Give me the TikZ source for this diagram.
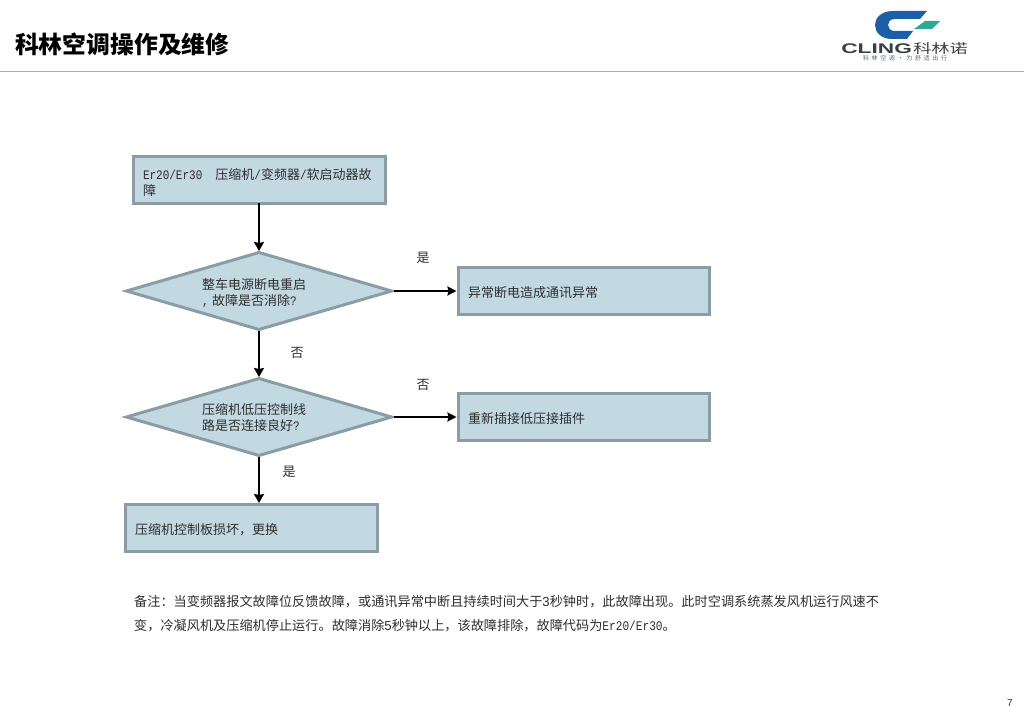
\documentclass[tikz,border=0pt]{standalone}
\usepackage{fontspec}
\setmainfont{Noto Sans CJK SC}
\newfontfamily\monofam[FakeStretch=0.846]{Liberation Mono}
\newfontfamily\sansfam{Liberation Sans}
\newfontfamily\spacedfam[LetterSpace=45]{Noto Sans CJK SC}
\usetikzlibrary{shapes.geometric,arrows.meta}
\definecolor{boxfill}{HTML}{C3D9E1}
\definecolor{boxline}{HTML}{8A9DA5}
\definecolor{inkgrey}{HTML}{2E2E2E}
\definecolor{rulegrey}{HTML}{9FB2AA}
\definecolor{logoblue}{HTML}{1B5FA6}
\definecolor{logogreen}{HTML}{2FA98F}
\definecolor{logogrey}{HTML}{3A3F44}
\newcommand{\bodyfont}{\fontsize{13}{16}\selectfont}
\newcommand{\mn}[1]{{\monofam #1}}
\newcommand{\lowerA}[1]{\raisebox{-2pt}[\height][\depth]{#1}}
\newcommand{\lowerB}[1]{\raisebox{-2pt}[\height][\depth]{#1}}
\newcommand{\lowerC}[1]{\raisebox{-1pt}[\height][\depth]{#1}}
\tikzset{
  flowshape/.style={draw=boxline,fill=boxfill,line width=3pt,text=inkgrey,font=\bodyfont,outer sep=0pt},
  flowbox/.style={flowshape,rectangle,minimum height=47pt,inner xsep=10pt,inner ysep=0pt,align=left},
  decision/.style={flowshape,diamond,aspect=3.43,minimum width=265pt,minimum height=77pt,inner sep=0pt,align=left,text width=114pt},
  vline/.style={draw=black,line width=2.4pt,-{Stealth[length=9pt,width=10pt,inset=1pt]}},
  hline/.style={draw=black,line width=2pt,-{Stealth[length=9pt,width=9pt,inset=1pt]}},
  branchlabel/.style={text=inkgrey,font=\bodyfont,inner sep=0pt},
}
\begin{document}
\begin{tikzpicture}[x=1pt,y=-1pt]
\useasboundingbox (0,0) rectangle (1024,708);
\fill[white] (0,0) rectangle (1024,708);
% header
\node[anchor=west,inner sep=0pt,font=\fontsize{23.8}{26}\selectfont\bfseries,text=black] (title) at (15,44) {科林空调操作及维修};
\coordinate (ruleL) at (0,71.5);
\coordinate (ruleR) at (1024,71.5);
\draw[rulegrey,line width=1.5pt] (ruleL) -- (ruleR);
% logo
\fill[logoblue] (927,11) -- (893,11) .. controls (880,11) and (875,19) .. (875,25)
  .. controls (875,32) and (881,39) .. (892,39) -- (907,39) -- (913,31) -- (895,31)
  .. controls (890,31) and (888,28) .. (888,25) .. controls (888,22) and (890,19) .. (895,19) -- (920,19) -- cycle;
\fill[logogreen] (925,21) -- (940,21) -- (932,29) -- (914,29) -- cycle;
\node[inner sep=0pt,anchor=west,xscale=1.62,text=logogrey,font=\fontsize{14}{14}\sansfam\bfseries] (logoa) at (841,48.5) {CLING};
\node[inner sep=0pt,anchor=west,xscale=1.4,text=logogrey,font=\fontsize{13}{13}\selectfont] (logob) at (913,48.5) {科林诺};
\node[inner sep=0pt,anchor=center,text=logogrey!80,font=\fontsize{6}{6}\spacedfam] (logoc) at (905,58.5) {科林空调·为舒适出行};
% flow
\node[flowbox,minimum width=252pt,text width=232pt] (b1) at (259,180) {\lowerA{\mn{Er20/Er30}\hspace{13pt}压缩机\mn{/}变频器\mn{/}软启动器故}\\\lowerA{障}};
\node[flowshape,decision] (d1) at (259,291) {\lowerB{整车电源断电重启}\\\lowerB{\mn{,}\hspace{3.5pt}故障是否消除\mn{?}}};
\node[flowbox,minimum width=251pt,text width=231pt] (b2) at (583.5,291) {\lowerA{异常断电造成通讯异常}};
\node[flowshape,decision] (d2) at (259,417) {\lowerC{压缩机低压控制线}\\\lowerC{路是否连接良好\mn{?}}};
\node[flowbox,minimum width=251pt,text width=231pt] (b3) at (583.5,417) {\lowerA{重新插接低压接插件}};
\node[flowbox,minimum width=252pt,text width=232pt] (b4) at (251,528) {\lowerA{压缩机控制板损坏，更换}};
\draw[vline] (b1.south -| d1.north) -- ([yshift=1.5pt]d1.north);
\draw[hline] ([xshift=2pt]d1.east) -- ([xshift=-1.5pt]d1.east -| b2.west);
\draw[vline] ([yshift=-1.5pt]d1.south) -- ([yshift=1.5pt]d2.north);
\draw[hline] ([xshift=2pt]d2.east) -- ([xshift=-1.5pt]d2.east -| b3.west);
\draw[vline] ([yshift=-1.5pt]d2.south) -- ([yshift=1.5pt]d2.south |- b4.north);
\node[branchlabel] (l1) at (423,258) {是};
\node[branchlabel] (l2) at (297,353) {否};
\node[branchlabel] (l3) at (423,385) {否};
\node[branchlabel] (l4) at (289,472) {是};
% note
\node[anchor=west,inner sep=0pt,align=left,text=inkgrey,font=\fontsize{13.17}{24}\selectfont] (note) at (134,613.5)
 {备注：当变频器报文故障位反馈故障，或通讯异常中断且持续时间大于{\sansfam 3}秒钟时，此故障出现。此时空调系统蒸发风机运行风速不\\
  变，冷凝风机及压缩机停止运行。故障消除{\sansfam 5}秒钟以上，该故障排除，故障代码为\mn{Er20/Er30}。};
\node[inner sep=0pt,text=inkgrey,font=\fontsize{10}{10}\sansfam] (page) at (1010,703) {7};
\end{tikzpicture}
\end{document}
